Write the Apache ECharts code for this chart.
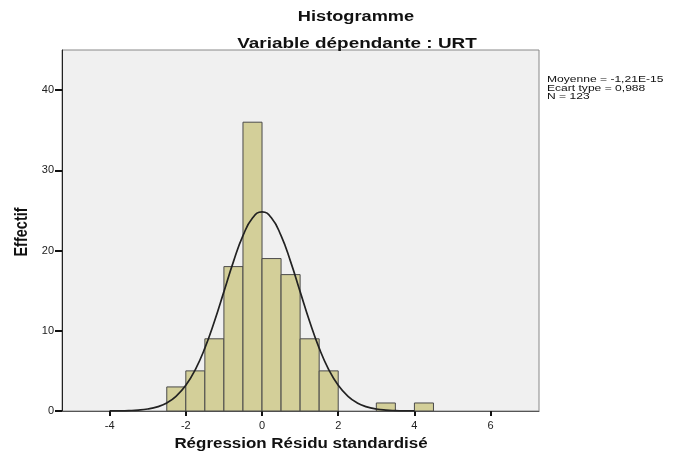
<!DOCTYPE html>
<html>
<head>
<meta charset="utf-8">
<script src="https://cdn.jsdelivr.net/npm/echarts@6/dist/echarts.min.js"></script>
<style>
html, body { margin: 0; padding: 0; background: #fff; }
#chart_main { width: 678px; height: 457px; }
</style>
</head>
<body>
<div id="chart_main"></div>
<script type="text/javascript">
// classes de l'histogramme (bornes) et effectifs
var bin_start = [-2.5, -2, -1.5, -1, -0.5, 0, 0.5, 1, 1.5, 3, 4];
var bin_end   = [-2, -1.5, -1, -0.5, 0, 0.5, 1, 1.5, 2, 3.5, 4.5];
var bin_count = [3, 5, 9, 18, 36, 19, 17, 9, 5, 1, 1];
// courbe normale
var curve_x = [-4, -3.75, -3.5, -3.25, -3, -2.75, -2.5, -2.25, -2, -1.75, -1.5, -1.25, -1, -0.75, -0.5, -0.25,
	0, 0.25, 0.5, 0.75, 1, 1.25, 1.5, 1.75, 2, 2.25, 2.5, 2.75, 3, 3.25, 3.5, 3.75, 4];
var curve_y = [0.01, 0.02, 0.05, 0.11, 0.25, 0.52, 1.0, 1.86, 3.2, 5.17, 7.84, 11.15, 14.88, 18.62, 21.85, 24.05,
	24.83, 24.05, 21.85, 18.62, 14.88, 11.15, 7.84, 5.17, 3.2, 1.86, 1.0, 0.52, 0.25, 0.11, 0.05, 0.02, 0.01];
var x_ticks = [-4, -2, 0, 2, 4, 6];
var y_ticks = [0, 10, 20, 30, 40];

var bars = [];
for (var i = 0; i < bin_count.length; i++) {
	bars.push([bin_start[i], bin_end[i], bin_count[i]]);
}
var line = [];
for (var j = 0; j < curve_x.length; j++) {
	line.push([curve_x[j], curve_y[j]]);
}

var myChart = echarts.init(document.getElementById('chart_main'));
var font = "'Liberation Sans', Arial, sans-serif";
// l'image d'origine est etiree horizontalement : les textes le sont aussi
var stretch = 1.27;
var option = {
	animation: false,
	graphic: [
		{type: 'text', x: 356, y: 17, scaleX: 1.3,
			style: {text: 'Histogramme', font: 'bold 14px ' + font, fill: '#111', align: 'center', verticalAlign: 'middle'}},
		{type: 'text', x: 357, y: 44, scaleX: 1.26,
			style: {text: 'Variable dépendante : URT', font: 'bold 15px ' + font, fill: '#111', align: 'center', verticalAlign: 'middle'}},
		{type: 'text', x: 301, y: 444, scaleX: 1.21,
			style: {text: 'Régression Résidu standardisé', font: 'bold 14px ' + font, fill: '#111', align: 'center', verticalAlign: 'middle'}},
		{type: 'text', x: 22, y: 232, rotation: Math.PI / 2, scaleY: stretch,
			style: {text: 'Effectif', font: 'bold 14.5px ' + font, fill: '#111', align: 'center', verticalAlign: 'middle'}},
		{type: 'text', x: 547, y: 75, scaleX: stretch,
			style: {text: 'Moyenne = -1,21E-15\nEcart type = 0,988\nN = 123',
				font: '9.5px ' + font, fill: '#111', lineHeight: 8.7, verticalAlign: 'top'}}
	],
	grid: {left: 62, right: 139, top: 50, bottom: 46, show: true,
		backgroundColor: '#f0f0f0', borderColor: '#888', borderWidth: 1},
	xAxis: {
		type: 'value', min: -5.25, max: 7.27,
		splitLine: {show: false},
		axisLine: {lineStyle: {color: '#555', width: 1}},
		axisTick: {customValues: x_ticks, length: 5, lineStyle: {color: '#111', width: 2}},
		axisLabel: {customValues: x_ticks, fontFamily: font, fontSize: 11, color: '#222', margin: 9}
	},
	yAxis: {
		type: 'value', min: 0, max: 45,
		splitLine: {show: false},
		axisLine: {show: true, onZero: false, lineStyle: {color: '#222', width: 1}},
		axisTick: {customValues: y_ticks, length: 7, lineStyle: {color: '#111', width: 2}},
		axisLabel: {customValues: y_ticks, fontFamily: font, fontSize: 11, color: '#222', margin: 8}
	},
	series: [
		{
			type: 'custom',
			data: bars,
			renderItem: function (params, api) {
				var p0 = api.coord([api.value(0), 0]);
				var p1 = api.coord([api.value(1), api.value(2)]);
				return {
					type: 'rect',
					shape: {x: p0[0], y: p1[1], width: p1[0] - p0[0], height: p0[1] - p1[1]},
					style: {fill: '#d3cf99', stroke: '#4a4a4a', lineWidth: 1}
				};
			}
		},
		{
			type: 'line',
			data: line,
			smooth: true,
			showSymbol: false,
			lineStyle: {color: '#222', width: 1.7}
		}
	]
};
myChart.setOption(option);
</script>
</body>
</html>
